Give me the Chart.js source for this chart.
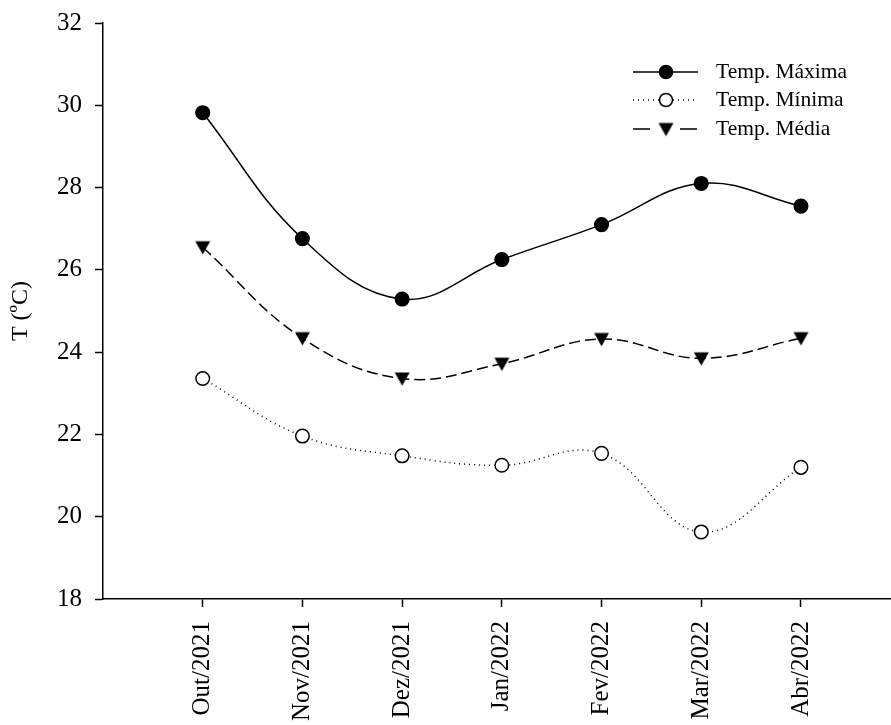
<!DOCTYPE html>
<html>
<head>
<meta charset="utf-8">
<script src="https://cdn.jsdelivr.net/npm/chart.js@4.4.1/dist/chart.umd.min.js"></script>
<style>
  html, body { margin: 0; padding: 0; background: #fff; overflow: hidden; }
  #wrap { width: 891px; height: 725px; overflow: hidden; }
</style>
</head>
<body>
<div id="wrap"><canvas id="chart" width="899" height="725"></canvas></div>
<script>
// Dados
const meses = ['Out/2021', 'Nov/2021', 'Dez/2021', 'Jan/2022', 'Fev/2022', 'Mar/2022', 'Abr/2022'];
const tempMaxima = [29.82, 26.76, 25.29, 26.25, 27.1, 28.1, 27.55];
const tempMinima = [23.36, 21.96, 21.48, 21.25, 21.54, 19.63, 21.2];
const tempMedia = [26.55, 24.34, 23.36, 23.72, 24.32, 23.85, 24.34];
const yTicks = [18, 20, 22, 24, 26, 28, 30, 32];

const serif = "'Liberation Serif', 'Times New Roman', serif";

function toPoints(values) {
    return values.map((v, i) => ({ x: i + 1, y: v }));
}

const series = [
    { label: 'Temp. Máxima', data: tempMaxima, style: 'circle', fill: '#000', dash: [], legendDash: [] },
    { label: 'Temp. Mínima', data: tempMinima, style: 'circle', fill: '#fff', dash: [1, 4], legendDash: [1, 4] },
    { label: 'Temp. Média', data: tempMedia, style: 'triangle', fill: '#000', dash: [11, 5], legendDash: [17, 30] }
];

// Triângulo invertido como marcador
function downTriangle(size) {
    const c = document.createElement('canvas');
    c.width = size * 2 + 2;
    c.height = size * 2 + 2;
    const g = c.getContext('2d');
    const cx = size + 1, cy = size + 1;
    g.fillStyle = '#000';
    g.beginPath();
    g.moveTo(cx - size, cy - size * 0.8);
    g.lineTo(cx + size, cy - size * 0.8);
    g.lineTo(cx, cy + size * 0.95);
    g.closePath();
    g.fill();
    return c;
}
const triMarker = downTriangle(7.5);

// Legenda desenhada manualmente
const legendPlugin = {
    id: 'customLegend',
    afterDraw(chart) {
        const ctx = chart.ctx;
        const x0 = 633, x1 = 698, xm = 666, xt = 716;
        const rows = [72, 100, 129];
        ctx.save();
        series.forEach((s, i) => {
            const y = rows[i];
            ctx.strokeStyle = '#000';
            ctx.lineWidth = 1.5;
            ctx.setLineDash(s.legendDash);
            ctx.beginPath();
            ctx.moveTo(x0, y);
            ctx.lineTo(x1, y);
            ctx.stroke();
            ctx.setLineDash([]);
            if (s.style === 'circle') {
                ctx.fillStyle = s.fill;
                ctx.beginPath();
                ctx.arc(xm, y, 6.5, 0, Math.PI * 2);
                ctx.fill();
                ctx.lineWidth = 1.5;
                ctx.stroke();
            } else {
                ctx.drawImage(triMarker, xm - triMarker.width / 2, y - triMarker.height / 2);
            }
            ctx.fillStyle = '#000';
            ctx.font = '21.5px ' + serif;
            ctx.textBaseline = 'middle';
            ctx.textAlign = 'left';
            ctx.fillText(s.label, xt, y);
        });
        ctx.restore();
    }
};

const ctx = document.getElementById('chart').getContext('2d');
const chart = new Chart(ctx, {
    type: 'line',
    data: {
        datasets: series.map(s => ({
            label: s.label,
            data: toPoints(s.data),
            borderColor: '#000',
            borderWidth: 1.5,
            borderDash: s.dash,
            tension: 0.4,
            pointStyle: s.style === 'circle' ? 'circle' : triMarker,
            pointRadius: 6.8,
            pointBackgroundColor: s.fill,
            pointBorderColor: '#000',
            pointBorderWidth: 1.5,
            clip: false
        }))
    },
    options: {
        responsive: false,
        animation: false,
        layout: { padding: { top: 23, right: 0, left: 0, bottom: 0 } },
        plugins: {
            legend: { display: false },
            tooltip: { enabled: false }
        },
        scales: {
            x: {
                type: 'linear',
                min: 0,
                max: 7.9,
                afterBuildTicks: (scale) => {
                    scale.ticks = meses.map((m, i) => ({ value: i + 1 }));
                },
                afterFit: (scale) => {
                    scale.height = 126;
                    scale.paddingLeft = 0;
                    scale.paddingRight = 0;
                },
                ticks: {
                    autoSkip: false,
                    minRotation: 90,
                    maxRotation: 90,
                    padding: 14,
                    color: '#000',
                    font: { family: serif, size: 25 },
                    callback: (v) => meses[v - 1]
                },
                grid: {
                    drawOnChartArea: false,
                    tickLength: 8,
                    tickWidth: 1.5,
                    color: '#000'
                },
                border: { color: '#000', width: 1.5 }
            },
            y: {
                min: 18,
                max: 32,
                afterBuildTicks: (scale) => {
                    scale.ticks = yTicks.map(v => ({ value: v }));
                },
                afterFit: (scale) => {
                    scale.width = 103;
                    scale.paddingTop = 0;
                    scale.paddingBottom = 0;
                },
                ticks: {
                    padding: 13,
                    color: '#000',
                    font: { family: serif, size: 25 }
                },
                grid: {
                    drawOnChartArea: false,
                    tickLength: 8,
                    tickWidth: 1.5,
                    color: '#000'
                },
                border: { color: '#000', width: 1.5 },
                title: {
                    display: true,
                    text: 'T (ºC)',
                    color: '#000',
                    font: { family: serif, size: 24 },
                    padding: { top: 6, bottom: 0 }
                }
            }
        }
    },
    plugins: [legendPlugin]
});
</script>
</body>
</html>
